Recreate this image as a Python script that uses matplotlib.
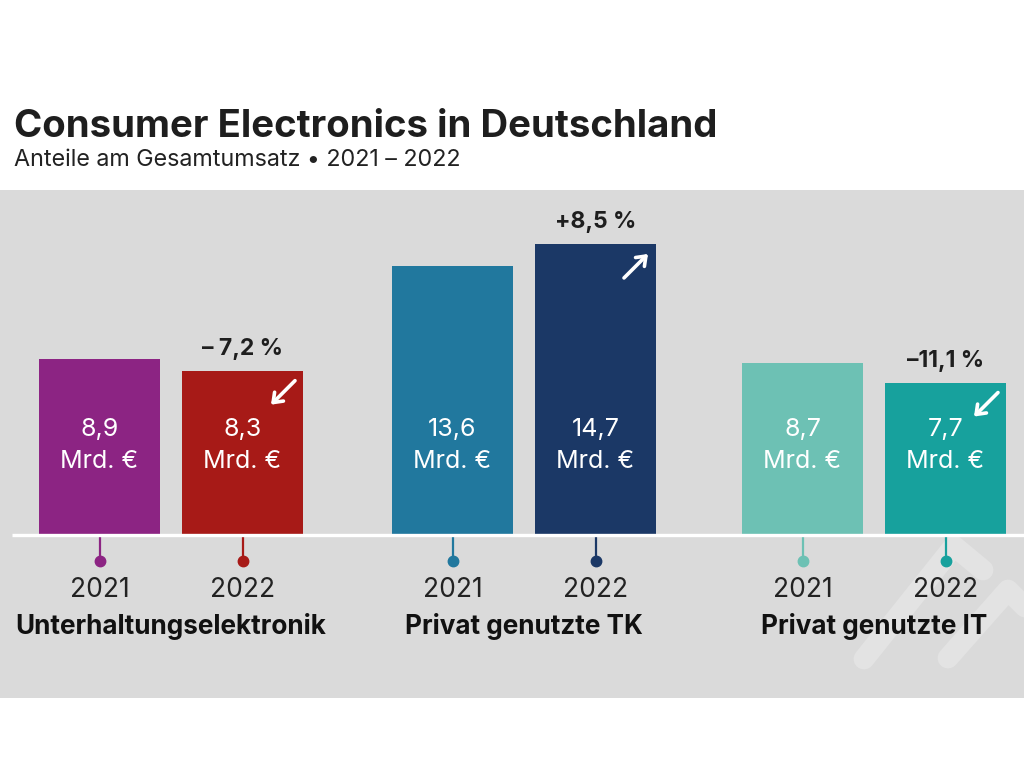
import matplotlib
matplotlib.use("Agg")
import matplotlib.pyplot as plt
from matplotlib.patches import Rectangle

# ---- data ----
categories = ["Unterhaltungselektronik", "Privat genutzte TK", "Privat genutzte IT"]
years = ["2021", "2022"]
values_2021 = [8.9, 13.6, 8.7]
values_2022 = [8.3, 14.7, 7.7]
changes = ["– 7,2 %", "+8,5 %", "–11,1 %"]
directions = ["down", "up", "down"]
colors_2021 = ["#8C2483", "#21789E", "#6DC1B4"]
colors_2022 = ["#A71A17", "#1B3866", "#17A19D"]

title = "Consumer Electronics in Deutschland"
subtitle = "Anteile am Gesamtumsatz • 2021 – 2022"
unit = "Mrd. €"

FONT = ["Inter", "DejaVu Sans"]
plt.rcParams["font.family"] = FONT

# ---- layout (pixels) ----
W, H = 1024, 768
PX = 19.8            # pixels per value unit
BASE = 233           # baseline, pixels from bottom
group_centers = [171, 524, 874]
offset = 71.5
bar_w = 121
bg = "#DADADA"

fig = plt.figure(figsize=(W / 100, H / 100), dpi=100)
fig.patch.set_facecolor("white")
ax = fig.add_axes([0, 0, 1, 1])
ax.set_xlim(0, W)
ax.set_ylim(-BASE / PX, (H - BASE) / PX)
ax.axis("off")

def py(p):
    """pixel offset -> value units"""
    return p / PX

# grey panel
ax.add_patch(Rectangle((0, 70 / H), 1, (698 - 190) / H, transform=fig.transFigure,
                       facecolor=bg, edgecolor="none", zorder=0))

# decorative chevrons
deco = "#E3E3E3"
for pts in ([(864, 659), (954, 546), (983, 570)],
            [(948, 658), (1008, 590), (1050, 632)]):
    xs = [p[0] for p in pts]
    ys = [(H - p[1] - BASE) / PX for p in pts]
    ln, = ax.plot(xs, ys, color=deco, lw=15, solid_capstyle="round",
                  solid_joinstyle="round", zorder=1)
    ln.set_clip_path(Rectangle((0, 70), W, 698 - 190, transform=None))

# bars
for i, c in enumerate(categories):
    for j, (vals, cols) in enumerate(((values_2021, colors_2021), (values_2022, colors_2022))):
        x = group_centers[i] + (-offset if j == 0 else offset)
        v = vals[i]
        ax.bar(x, v, width=bar_w, color=cols[i], zorder=2)
        ax.text(x, py(90), f"{v:.1f}".replace(".", ",") + "\n" + unit,
                ha="center", va="center", color="white", fontsize=18,
                fontweight="normal", linespacing=1.5, zorder=4)
        # stem + dot
        ax.plot([x, x], [0, -py(26)], color=cols[i], lw=1.6, zorder=3)
        ax.plot([x], [-py(26)], marker="o", ms=7.5, color=cols[i], zorder=3)
        ax.text(x, -py(62), years[j], ha="center", va="baseline",
                fontsize=19, fontweight="normal", color="#222222", zorder=4)
        if j == 1:
            right = x + bar_w / 2
            p_tail = (right - 32, v - py(34))
            p_head = (right - 8, v - py(10))
            if directions[i] == "down":
                p_tail, p_head = p_head, p_tail
            ax.annotate("", xy=p_head, xytext=p_tail,
                        arrowprops=dict(arrowstyle="->,head_length=0.6,head_width=0.45",
                                        color="white", lw=2.6, shrinkA=0, shrinkB=0),
                        zorder=5)
            ax.text(x, v + py(16), changes[i], ha="center", va="baseline",
                    fontsize=16.5, fontweight="bold", color="#1E1E1E", zorder=4)
    ax.text(group_centers[i], -py(99), c, ha="center", va="baseline",
            fontsize=18.8, fontweight="bold", color="#111111", zorder=4)

# baseline
ax.plot([12, W], [0, 0], color="white", lw=2.4, zorder=3, solid_capstyle="butt")

# titles
fig.text(14 / W, (H - 137) / H, title, ha="left", va="baseline",
         fontsize=27.6, fontweight="bold", color="#1E1E1E")
fig.text(14 / W, (H - 166) / H, subtitle, ha="left", va="baseline",
         fontsize=16.8, fontweight="normal", color="#222222")

fig.savefig("out.png", dpi=100, facecolor="white")
